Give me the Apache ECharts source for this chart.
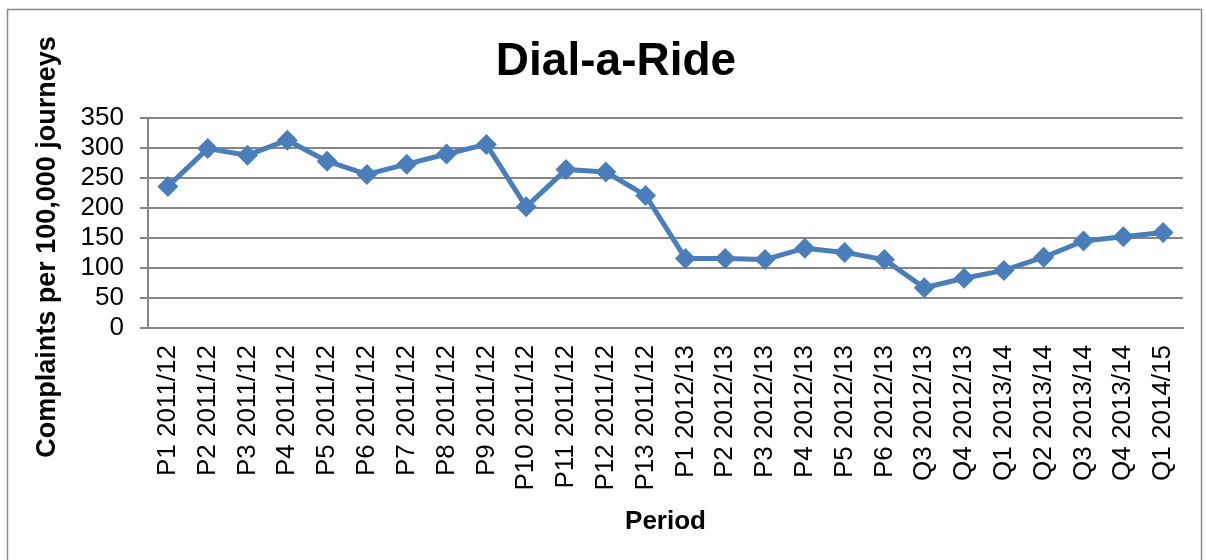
<!DOCTYPE html>
<html>
<head>
<meta charset="utf-8" />
<title>Dial-a-Ride</title>
<script src="https://cdn.jsdelivr.net/npm/echarts@6/dist/echarts.min.js"></script>
<style>
	html, body { margin: 0; padding: 0; background: #fff; }
	#chart { width: 1206px; height: 560px; }
</style>
</head>
<body>
<div id="chart"></div>
<script>
	// periods along the x axis
	var periods = [
		'P1 2011/12', 'P2 2011/12', 'P3 2011/12', 'P4 2011/12', 'P5 2011/12',
		'P6 2011/12', 'P7 2011/12', 'P8 2011/12', 'P9 2011/12', 'P10 2011/12',
		'P11 2011/12', 'P12 2011/12', 'P13 2011/12', 'P1 2012/13', 'P2 2012/13',
		'P3 2012/13', 'P4 2012/13', 'P5 2012/13', 'P6 2012/13', 'Q3 2012/13',
		'Q4 2012/13', 'Q1 2013/14', 'Q2 2013/14', 'Q3 2013/14', 'Q4 2013/14',
		'Q1 2014/15'
	];
	// complaints per 100,000 journeys
	var complaints = [
		236, 299, 288, 313, 278, 256, 273, 290, 306, 202,
		264, 260, 221, 116, 116, 114, 133, 126, 114, 67,
		83, 96, 118, 145, 152, 159
	];

	var font = 'Liberation Sans, Arial, sans-serif';
	var myChart = echarts.init(document.getElementById('chart'));
	var option = {
		backgroundColor: '#fff',
		animation: false,
		title: {
			text: 'Dial-a-Ride',
			left: 611,
			textAlign: 'center',
			top: 34,
			textStyle: { fontFamily: font, fontSize: 46, fontWeight: 'bold', color: '#000' }
		},
		graphic: [
			{
				type: 'rect',
				shape: { x: 7.5, y: 9.5, width: 1194, height: 570 },
				style: { fill: null, stroke: '#8c8c8c', lineWidth: 1.5 },
				silent: true
			},
			{
				type: 'text',
				x: 48, y: 247,
				rotation: Math.PI / 2,
				style: {
					text: 'Complaints per 100,000 journeys',
					fontFamily: font, fontSize: 27, fontWeight: 'bold', fill: '#000',
					align: 'center', verticalAlign: 'middle'
				}
			}
		],
		grid: { left: 148, right: 23, top: 118, bottom: 232 },
		xAxis: {
			type: 'category',
			data: periods,
			boundaryGap: true,
			name: 'Period',
			nameLocation: 'middle',
			nameGap: 181,
			nameTextStyle: { fontFamily: font, fontSize: 26, fontWeight: 'bold', color: '#000' },
			axisLine: { lineStyle: { color: '#868686', width: 2 } },
			axisTick: { show: false },
			axisLabel: {
				rotate: 90, interval: 0, margin: 17,
				fontFamily: font, fontSize: 26, color: '#000'
			}
		},
		yAxis: {
			type: 'value',
			min: 0, max: 350, interval: 50,
			axisLine: { show: true, lineStyle: { color: '#868686', width: 2 } },
			axisTick: { show: true, length: 8, lineStyle: { color: '#868686', width: 2 } },
			splitLine: { lineStyle: { color: '#868686', width: 2 } },
			axisLabel: { fontFamily: font, fontSize: 26, color: '#000', margin: 24 }
		},
		series: [
			{
				name: 'Dial-a-Ride',
				type: 'line',
				data: complaints,
				symbol: 'diamond',
				symbolSize: 21,
				lineStyle: { color: '#4a7ebb', width: 5 },
				itemStyle: { color: '#4a7ebb' }
			}
		]
	};
	myChart.setOption(option);
</script>
</body>
</html>
